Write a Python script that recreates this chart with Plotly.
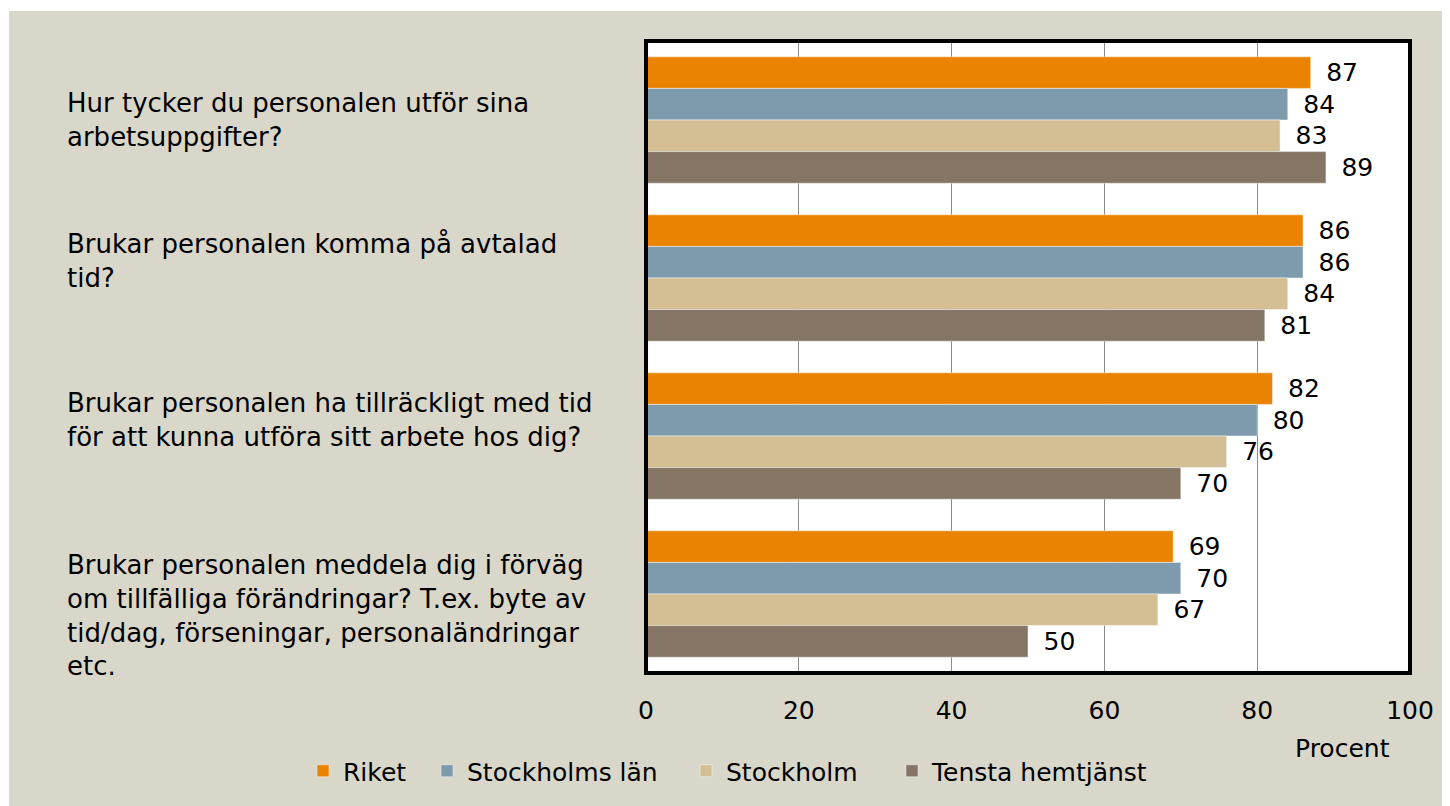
import plotly.graph_objects as go

questions = [
    "Hur tycker du personalen utför sina<br>arbetsuppgifter?",
    "Brukar personalen komma på avtalad<br>tid?",
    "Brukar personalen ha tillräckligt med tid<br>för att kunna utföra sitt arbete hos dig?",
    "Brukar personalen meddela dig i förväg<br>om tillfälliga förändringar? T.ex. byte av<br>tid/dag, förseningar, personaländringar<br>etc.",
]
cat_ids = ["q1", "q2", "q3", "q4"]
series_names = ["Riket", "Stockholms län", "Stockholm", "Tensta hemtjänst"]
riket = [87, 86, 82, 69]
stockholms_lan = [84, 86, 80, 70]
stockholm = [83, 84, 76, 67]
tensta = [89, 81, 70, 50]
x_ticks = [0, 20, 40, 60, 80, 100]

series_values = [riket, stockholms_lan, stockholm, tensta]
colors = ["#E98300", "#7E9BAD", "#D4BF95", "#857564"]
FONT = "DejaVu Sans"
BG = "#D9D7CA"

W, H = 1442, 798
L, T, R, B = 638, 33, 40, 133
PW, PH = W - L - R, H - T - B

legend_ids = ["legend", "legend2", "legend3", "legend4"]
legend_px = [295, 419, 678, 884]

fig = go.Figure()
for name, vals, col, lid in zip(series_names, series_values, colors, legend_ids):
    fig.add_trace(go.Bar(
        y=cat_ids, x=vals, name=name, orientation="h",
        marker=dict(color=col, line=dict(color="rgba(255,255,255,0.45)", width=1)),
        text=[str(v) for v in vals], textposition="outside",
        texttemplate="\u2002%{text}",
        textfont=dict(family=FONT, size=25, color="#000000"),
        cliponaxis=False, legend=lid,
    ))

label_shift = [0, 17, 16, -21]
for cid, q, sh in zip(cat_ids, questions, label_shift):
    fig.add_annotation(
        x=(57 - L) / PW, xref="paper", y=cid, yref="y",
        text=q, showarrow=False, xanchor="left", yanchor="middle", align="left",
        yshift=sh, font=dict(family=FONT, size=26, color="#000000"),
    )

fig.add_annotation(
    x=(1334 - L) / PW, xref="paper", y=(665 - 740) / PH, yref="paper",
    text="Procent", showarrow=False, xanchor="center", yanchor="middle",
    font=dict(family=FONT, size=25, color="#000000"),
)

# thin white outer strips (top and left)
fig.add_shape(type="rect", xref="paper", yref="paper",
              x0=-1.0, x1=1.2, y0=(665 - 3) / PH, y1=1.2,
              fillcolor="white", line_width=0, layer="below")
fig.add_shape(type="rect", xref="paper", yref="paper",
              x0=-1.0, x1=(1 - L) / PW, y0=-0.4, y1=1.2,
              fillcolor="white", line_width=0, layer="below")
# plot frame
fig.add_shape(type="rect", xref="paper", yref="paper",
              x0=0, x1=1, y0=0, y1=1,
              line=dict(color="black", width=4), fillcolor="rgba(0,0,0,0)", layer="above")

legend_common = dict(orientation="h", xanchor="left",
                     y=(665 - 763) / PH, yanchor="middle",
                     font=dict(family=FONT, size=25), bgcolor="rgba(0,0,0,0)",
                     itemwidth=30)
layout_legends = {lid: dict(legend_common, x=(px - L) / PW)
                  for lid, px in zip(legend_ids, legend_px)}

fig.update_layout(
    width=W, height=H,
    margin=dict(l=L, r=R, t=T, b=B, autoexpand=False),
    paper_bgcolor=BG, plot_bgcolor="white",
    barmode="group", bargap=0.2, bargroupgap=0,
    font=dict(family=FONT, size=25, color="#000000"),
    showlegend=True,
    **layout_legends,
)
fig.update_xaxes(range=[0, 100], tickvals=x_ticks, showgrid=True,
                 gridcolor="#8C8C8C", gridwidth=1, zeroline=False,
                 showline=False, ticks="", ticklabelstandoff=20,
                 tickfont=dict(family=FONT, size=25))
fig.update_yaxes(autorange="reversed", showticklabels=False, showgrid=False,
                 zeroline=False, showline=False, ticks="")

fig.write_html("out.html")
